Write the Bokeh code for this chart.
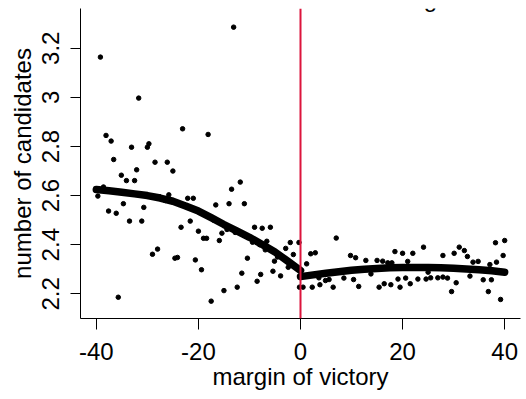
from bokeh.plotting import figure
from bokeh.models import Range1d, Span, Label, FixedTicker
from bokeh.embed import file_html
from bokeh.resources import INLINE

# binned means, left of cutoff (margin < 0)
left_x = [-39.7, -39.2, -38.6, -38.1, -37.6, -37.1, -36.6, -36.1, -35.7, -35.1, -34.7, -34.1,
          -33.5, -33.1, -32.5, -32.1, -31.7, -31.1, -30.7, -30.0, -29.7, -29.0, -28.5, -28.0,
          -27.6, -26.5, -26.1, -25.8, -25.0, -24.6, -24.1, -23.4, -23.1, -22.1, -21.6, -21.0,
          -20.6, -20.0, -19.4, -19.0, -18.4, -18.1, -17.5, -17.0, -16.6, -15.9, -15.4, -15.0,
          -14.4, -14.0, -13.5, -13.1, -12.8, -12.4, -11.8, -11.5, -11.0, -10.4, -9.4, -9.0,
          -8.5, -8.0, -7.8, -7.5, -6.9, -6.6, -5.9, -5.4, -5.1, -4.5, -3.9, -2.9, -2.4, -2.0,
          -1.4, -1.0, -0.3, -0.2]
left_y = [2.598, 3.164, 2.635, 2.845, 2.537, 2.822, 2.747, 2.528, 2.186, 2.683, 2.567, 2.661,
          2.496, 2.797, 2.661, 2.705, 2.997, 2.496, 2.552, 2.797, 2.811, 2.361, 2.736, 2.382,
          2.595, 2.580, 2.736, 2.603, 2.700, 2.345, 2.348, 2.471, 2.872, 2.589, 2.496, 2.589,
          2.338, 2.455, 2.298, 2.426, 2.426, 2.849, 2.170, 2.500, 2.562, 2.417, 2.447, 2.213,
          2.462, 2.567, 2.626, 3.286, 2.450, 2.227, 2.655, 2.284, 2.567, 2.345, 2.410, 2.471,
          2.251, 2.400, 2.279, 2.467, 2.379, 2.414, 2.471, 2.292, 2.333, 2.350, 2.273, 2.385,
          2.308, 2.409, 2.360, 2.310, 2.409, 2.227]

# binned means, right of cutoff (margin > 0)
right_x = [0.5, 1.2, 2.0, 2.3, 2.9, 3.6, 3.8, 4.9, 5.6, 6.4, 7.0, 8.5, 9.8, 10.4, 10.8, 11.4,
           12.8, 13.8, 15.0, 15.4, 16.1, 16.4, 17.1, 17.7, 17.9, 18.5, 19.1, 19.5, 20.0, 20.6,
           21.0, 21.5, 22.0, 23.0, 24.1, 24.6, 25.0, 25.5, 26.9, 27.9, 27.9, 28.8, 29.6, 30.1,
           30.5, 31.1, 32.1, 32.7, 33.2, 33.8, 34.8, 35.8, 36.8, 37.1, 37.4, 38.2, 38.4, 39.2,
           39.7, 40.0]
right_y = [2.227, 2.322, 2.363, 2.227, 2.367, 2.265, 2.237, 2.254, 2.258, 2.227, 2.427, 2.264,
           2.356, 2.258, 2.347, 2.230, 2.336, 2.281, 2.336, 2.227, 2.333, 2.241, 2.326, 2.237,
           2.326, 2.372, 2.260, 2.227, 2.365, 2.264, 2.332, 2.241, 2.365, 2.260, 2.390, 2.260,
           2.288, 2.265, 2.265, 2.268, 2.356, 2.264, 2.209, 2.365, 2.245, 2.390, 2.376, 2.352,
           2.272, 2.329, 2.332, 2.257, 2.209, 2.319, 2.257, 2.408, 2.329, 2.177, 2.356, 2.417]

# fitted curves
fit_left_x = [-40, -37.5, -35, -32.5, -30, -27.5, -25, -22.5, -20, -17.5, -15, -12.5, -10,
              -7.5, -5, -2.5, 0]
fit_left_y = [2.625, 2.620, 2.614, 2.607, 2.600, 2.590, 2.577, 2.558, 2.537, 2.510, 2.482,
              2.456, 2.430, 2.401, 2.370, 2.333, 2.295]
fit_right_x = [0, 2.5, 5, 7.5, 10, 12.5, 15, 17.5, 20, 22.5, 25, 27.5, 30, 32.5, 35, 37.5, 40]
fit_right_y = [2.270, 2.277, 2.284, 2.290, 2.296, 2.300, 2.303, 2.306, 2.307, 2.307, 2.307,
               2.306, 2.304, 2.301, 2.298, 2.294, 2.288]

x_ticks = [-40, -20, 0, 20, 40]
x_tick_labels = {-40: "-40", -20: "-20", 0: "0", 20: "20", 40: "40"}
y_ticks = [2.2, 2.4, 2.6, 2.8, 3.0, 3.2]
y_tick_labels = {2.2: "2.2", 2.4: "2.4", 2.6: "2.6", 2.8: "2.8", 3.0: "3", 3.2: "3.2"}

FONT = "Liberation Sans"

p = figure(width=526, height=399, output_backend="svg", toolbar_location=None,
           x_range=Range1d(-43.1, 43.1), y_range=Range1d(2.0994, 3.362),
           min_border_left=80, min_border_right=6, min_border_top=8, min_border_bottom=81)
p.outline_line_color = None
p.xgrid.visible = False
p.ygrid.visible = False
p.background_fill_color = "white"
p.border_fill_color = "white"

p.scatter(left_x, left_y, size=4.5, color="black")
p.scatter(right_x, right_y, size=4.5, color="black")
p.line(fit_left_x, fit_left_y, line_width=7.5, color="black", line_cap="round", line_join="round")
p.line(fit_right_x, fit_right_y, line_width=7.5, color="black", line_cap="round", line_join="round")

p.add_layout(Span(location=0, dimension="height", line_color="#DC143C", line_width=2))

for ax in (p.xaxis[0], p.yaxis[0]):
    ax.axis_line_color = "black"
    ax.major_tick_line_color = "black"
    ax.minor_tick_line_color = None
    ax.major_tick_in = 0
    ax.major_tick_out = 11
    ax.major_label_text_font = FONT
    ax.major_label_text_font_size = "24px"
    ax.major_label_text_color = "black"
    ax.axis_label_text_font = FONT
    ax.axis_label_text_font_size = "24px"
    ax.axis_label_text_font_style = "normal"
    ax.axis_label_text_color = "black"

p.xaxis.ticker = FixedTicker(ticks=x_ticks)
p.xaxis.major_label_overrides = x_tick_labels
p.xaxis.axis_label = "margin of victory"
p.xaxis.major_label_standoff = 13
p.xaxis.axis_label_standoff = 0

p.yaxis.ticker = FixedTicker(ticks=y_ticks)
p.yaxis.major_label_overrides = y_tick_labels
p.yaxis.major_label_orientation = "vertical"
p.yaxis.axis_label = "number of candidates"
p.yaxis.major_tick_out = 10
p.yaxis.major_label_standoff = 11
p.yaxis.axis_label_standoff = 4

# partially visible title above the plot
p.add_layout(Label(x=350, y=320, x_units="screen", y_units="screen", text="g",
                   text_font=FONT, text_font_size="24px", text_align="center",
                   text_baseline="alphabetic", text_color="black"))

open("out.html", "w").write(file_html(p, INLINE))
